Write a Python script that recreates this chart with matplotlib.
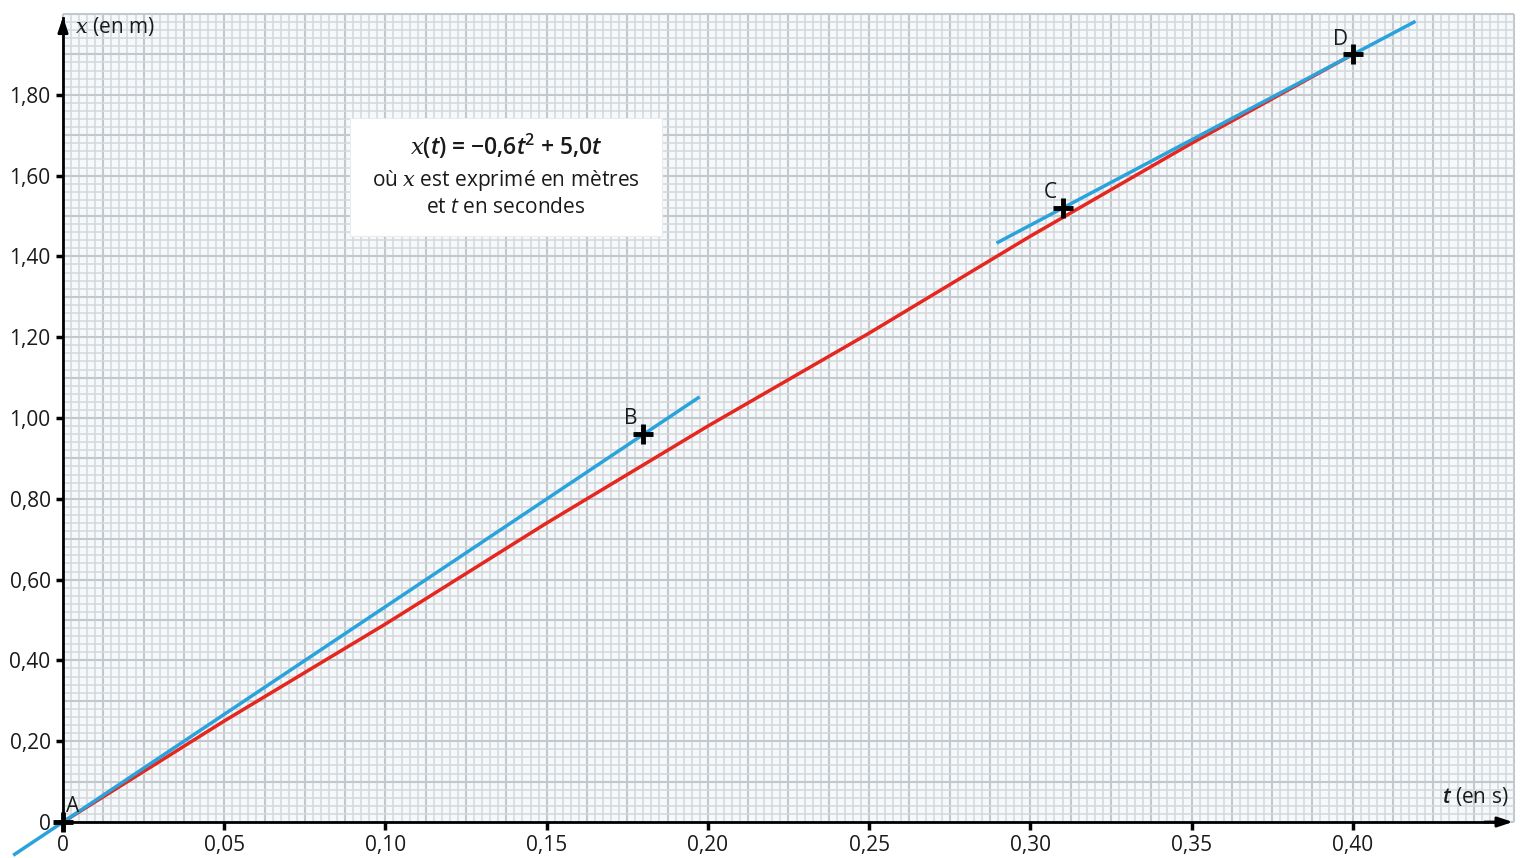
import numpy as np
import matplotlib
matplotlib.use('Agg')
import matplotlib.pyplot as plt
from matplotlib.patches import Rectangle
from matplotlib.ticker import FuncFormatter

# Valeurs
t_courbe = [0, 0.05, 0.10, 0.15, 0.20, 0.25, 0.30, 0.35, 0.40]
x_courbe = [0, 0.25, 0.49, 0.74, 0.98, 1.21, 1.45, 1.68, 1.90]

t_points = [0, 0.18, 0.31, 0.40]
x_points = [0, 0.96, 1.52, 1.90]
noms_points = ['A', 'B', 'C', 'D']

# droites bleues (secantes AB et CD)
t_droite_ab = [-0.015, 0.197]
x_droite_ab = [-0.08, 1.05]
t_droite_cd = [0.29, 0.419]
x_droite_cd = [1.435, 1.98]

t_graduations = [0, 0.05, 0.10, 0.15, 0.20, 0.25, 0.30, 0.35, 0.40]
x_graduations = [0, 0.20, 0.40, 0.60, 0.80, 1.00, 1.20, 1.40, 1.60, 1.80]

plt.rcParams['font.family'] = ['Open Sans', 'DejaVu Sans']
plt.rcParams['mathtext.fontset'] = 'custom'
plt.rcParams['mathtext.rm'] = 'Open Sans'
plt.rcParams['mathtext.it'] = 'Open Sans:italic'
plt.rcParams['mathtext.bf'] = 'Open Sans:semibold'
plt.rcParams['mathtext.bfit'] = 'Open Sans:semibold:italic'
plt.rcParams['mathtext.cal'] = 'DejaVu Serif:italic'

BLEU = '#2aa3dd'
ROUGE = '#e5271f'
NOIR = '#1a1a1a'

fig = plt.figure(figsize=(15.22, 8.58), dpi=100)
ax = fig.add_axes([0, 0, 1, 1])
ax.set_xlim(-0.01954, 0.4525)
ax.set_ylim(-0.0891, 2.0347)
ax.set_facecolor('white')

# papier millimetre
ax.add_patch(Rectangle((0, 0), 0.45, 2.0, facecolor='#f6f9fb', edgecolor='none', zorder=0))
for i in range(181):
    major = (i % 5 == 0)
    ax.vlines(i * 0.0025, 0, 2.0, color='#c3c8cc' if major else '#d4d8db',
              lw=1.5 if major else 1.1, zorder=0)
for j in range(101):
    major = (j % 5 == 0)
    ax.hlines(j * 0.02, 0, 0.45, color='#c3c8cc' if major else '#d4d8db',
              lw=1.5 if major else 1.1, zorder=0)

# axes
for s in ['top', 'right']:
    ax.spines[s].set_visible(False)
ax.spines['left'].set_position(('data', 0))
ax.spines['bottom'].set_position(('data', 0))
ax.spines['left'].set_bounds(0, 1.99)
ax.spines['bottom'].set_bounds(0, 0.447)
ax.spines['left'].set_linewidth(2)
ax.spines['bottom'].set_linewidth(2)
ax.spines['left'].set_zorder(5)
ax.spines['bottom'].set_zorder(5)
ax.annotate('', xy=(0, 2.0), xytext=(0, 1.95),
            arrowprops=dict(arrowstyle='-|>,head_length=0.9,head_width=0.3', color='black', lw=2),
            zorder=6)
ax.annotate('', xy=(0.4505, 0), xytext=(0.44, 0),
            arrowprops=dict(arrowstyle='-|>,head_length=0.9,head_width=0.3', color='black', lw=2),
            zorder=6)

fmt = FuncFormatter(lambda v, p: '0' if abs(v) < 1e-9 else ('%.2f' % v).replace('.', ','))
ax.set_xticks(t_graduations)
ax.set_yticks(x_graduations)
ax.xaxis.set_major_formatter(fmt)
ax.yaxis.set_major_formatter(fmt)
ax.tick_params(axis='y', direction='out', length=5, width=2.5, labelsize=15, pad=4, labelcolor=NOIR)
ax.tick_params(axis='x', direction='out', length=6, width=2.5, labelsize=15, pad=3, labelcolor=NOIR)

# courbe et secantes
ax.plot(t_courbe, x_courbe, color=ROUGE, lw=2.5, zorder=3)
ax.plot(t_droite_ab, x_droite_ab, color=BLEU, lw=2.5, zorder=4, clip_on=False)
ax.plot(t_droite_cd, x_droite_cd, color=BLEU, lw=2.5, zorder=4)

ax.plot(t_points, x_points, '+', color='black', ms=15, mew=3.5, zorder=7)
for t, x, nom in zip(t_points, x_points, noms_points):
    if nom == 'A':
        dx, dy = 7, 11
    else:
        dx, dy = -9, 11
    ax.annotate(nom, (t, x), xytext=(dx, dy), textcoords='offset points',
                ha='center', va='center', fontsize=15, color=NOIR, zorder=8)

# libelles des axes
ax.text(0.0037, 1.968, r'$\mathcal{x}$ (en m)', fontsize=15, ha='left', va='center', color=NOIR)
ax.text(0.4482, 0.062, r'$\mathbfit{t}$ (en s)', fontsize=15, ha='right', va='center', color=NOIR)

# encadre
ax.add_patch(Rectangle((0.089, 1.45), 0.0968, 0.293, facecolor='white', edgecolor='#ececec',
                       lw=0.8, zorder=2))
ax.text(0.1374, 1.673, r'$\mathcal{x}$(' + r'$\mathbfit{t}$' + ') = \u22120,6' + r'$\mathbfit{t}^{\mathbf{2}}$'
        + ' + 5,0' + r'$\mathbfit{t}$', fontsize=16.5, fontweight='semibold', ha='center', va='center',
        color=NOIR, zorder=3)
ax.text(0.1374, 1.589, r'où $\mathcal{x}$ est exprimé en mètres', fontsize=15, ha='center',
        va='center', color=NOIR, zorder=3)
ax.text(0.1374, 1.520, r'et $\mathit{t}$ en secondes', fontsize=15, ha='center', va='center',
        color=NOIR, zorder=3)

plt.savefig('out.png', dpi=100)
plt.close()
